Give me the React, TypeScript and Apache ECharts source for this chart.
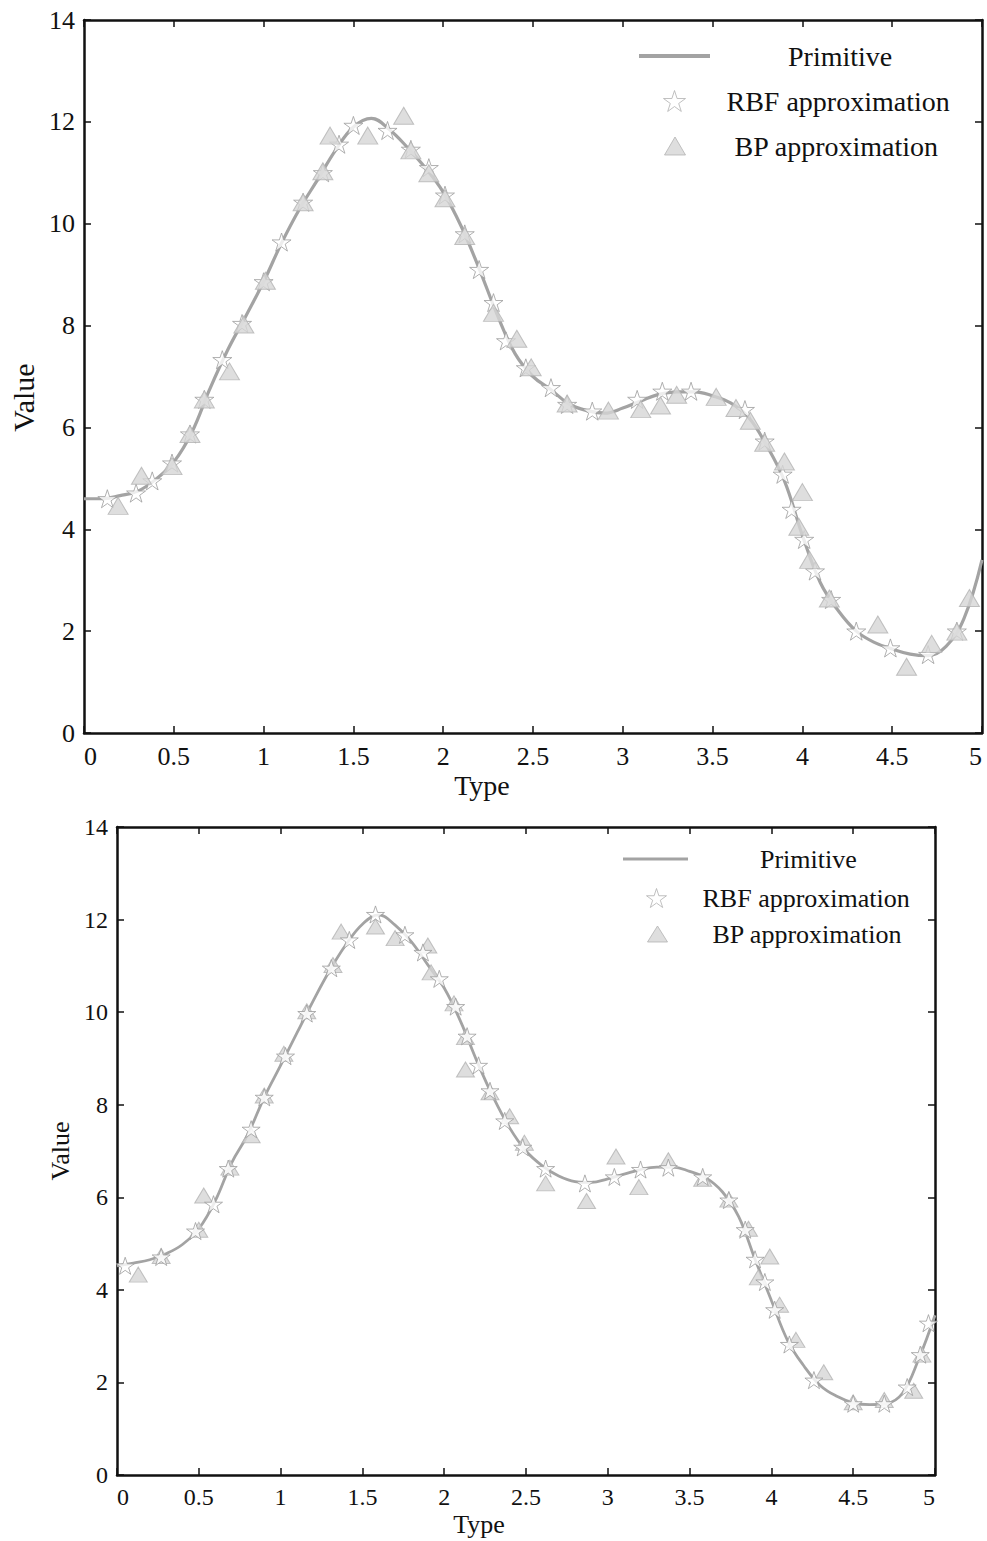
import React, { useEffect, useRef } from "react";
import * as echarts from "echarts";

const curveX = [0, 0.1, 0.2, 0.3, 0.4, 0.5, 0.6, 0.7, 0.8, 0.9, 1.0, 1.1, 1.2, 1.3, 1.4, 1.5, 1.6, 1.7, 1.8, 1.9, 2.0, 2.1, 2.2, 2.3, 2.4, 2.5, 2.6, 2.7, 2.8, 2.9, 3.0, 3.1, 3.2, 3.3, 3.4, 3.5, 3.6, 3.7, 3.8, 3.9, 4.0, 4.1, 4.2, 4.3, 4.4, 4.5, 4.6, 4.7, 4.8, 4.9, 5.0];

const primitiveTop = [4.6, 4.6, 4.66, 4.75, 4.98, 5.32, 5.9, 6.75, 7.52, 8.18, 8.86, 9.62, 10.29, 10.86, 11.44, 11.9, 12.07, 11.85, 11.5, 11.1, 10.62, 9.95, 9.12, 8.22, 7.45, 7.0, 6.74, 6.46, 6.33, 6.28, 6.38, 6.52, 6.65, 6.7, 6.7, 6.62, 6.48, 6.2, 5.65, 4.95, 3.88, 2.95, 2.4, 2.0, 1.78, 1.65, 1.55, 1.52, 1.7, 2.25, 3.4];

const primitiveBottom = [4.52, 4.58, 4.65, 4.78, 4.98, 5.32, 5.92, 6.74, 7.36, 8.16, 8.85, 9.55, 10.25, 10.9, 11.46, 11.9, 12.1, 11.88, 11.52, 11.02, 10.52, 9.8, 8.94, 8.16, 7.5, 7.0, 6.68, 6.46, 6.34, 6.32, 6.4, 6.5, 6.6, 6.65, 6.65, 6.56, 6.42, 6.12, 5.58, 4.66, 3.77, 2.9, 2.35, 1.93, 1.7, 1.56, 1.52, 1.54, 1.76, 2.5, 3.45];

const rbfTop = [[0.13, 4.6], [0.29, 4.71], [0.38, 4.95], [0.49, 5.3], [0.59, 5.87], [0.67, 6.55], [0.77, 7.33], [0.88, 8.04], [1.0, 8.86], [1.1, 9.64], [1.22, 10.42], [1.33, 11.0], [1.42, 11.56], [1.5, 11.93], [1.69, 11.83], [1.82, 11.46], [1.92, 11.1], [2.01, 10.56], [2.12, 9.8], [2.2, 9.1], [2.28, 8.45], [2.35, 7.7], [2.46, 7.17], [2.6, 6.78], [2.69, 6.45], [2.83, 6.32], [3.08, 6.55], [3.22, 6.71], [3.38, 6.71], [3.68, 6.35], [3.79, 5.73], [3.89, 5.08], [3.94, 4.39], [4.01, 3.8], [4.07, 3.18], [4.16, 2.62], [4.3, 2.0], [4.49, 1.67], [4.7, 1.54], [4.86, 2.0]];

const bpTop = [[0.19, 4.46], [0.32, 5.05], [0.49, 5.24], [0.59, 5.87], [0.67, 6.55], [0.81, 7.1], [0.89, 8.02], [1.01, 8.88], [1.22, 10.42], [1.33, 11.03], [1.37, 11.73], [1.58, 11.73], [1.78, 12.12], [1.82, 11.44], [1.92, 10.99], [2.01, 10.5], [2.12, 9.76], [2.28, 8.25], [2.41, 7.74], [2.49, 7.18], [2.69, 6.47], [2.92, 6.33], [3.1, 6.36], [3.21, 6.43], [3.3, 6.64], [3.52, 6.6], [3.63, 6.38], [3.71, 6.13], [3.79, 5.7], [3.9, 5.33], [4.0, 4.73], [3.98, 4.05], [4.04, 3.4], [4.15, 2.64], [4.42, 2.13], [4.58, 1.3], [4.72, 1.75], [4.86, 1.99], [4.93, 2.65]];

const rbfBottom = [[0.05, 4.52], [0.27, 4.71], [0.48, 5.27], [0.59, 5.85], [0.68, 6.62], [0.82, 7.47], [0.9, 8.16], [1.03, 9.05], [1.16, 9.97], [1.31, 10.95], [1.42, 11.56], [1.58, 12.11], [1.76, 11.67], [1.87, 11.29], [1.97, 10.72], [2.07, 10.12], [2.14, 9.48], [2.21, 8.85], [2.28, 8.3], [2.37, 7.65], [2.48, 7.08], [2.62, 6.62], [2.86, 6.3], [3.04, 6.44], [3.2, 6.6], [3.37, 6.64], [3.58, 6.44], [3.74, 5.94], [3.84, 5.3], [3.9, 4.66], [3.96, 4.17], [4.02, 3.57], [4.11, 2.82], [4.26, 2.05], [4.5, 1.54], [4.69, 1.54], [4.83, 1.9], [4.91, 2.6], [4.96, 3.28]];

const bpBottom = [[0.13, 4.33], [0.27, 4.73], [0.5, 5.3], [0.53, 6.04], [0.69, 6.64], [0.82, 7.34], [0.9, 8.2], [1.02, 9.1], [1.16, 10.02], [1.32, 11.02], [1.37, 11.74], [1.58, 11.85], [1.7, 11.6], [1.9, 11.44], [1.92, 10.86], [2.06, 10.19], [2.13, 9.46], [2.13, 8.76], [2.28, 8.27], [2.4, 7.75], [2.49, 7.18], [2.62, 6.3], [2.87, 5.92], [3.05, 6.88], [3.19, 6.22], [3.37, 6.8], [3.58, 6.4], [3.74, 5.95], [3.86, 5.32], [3.99, 4.72], [3.92, 4.27], [4.05, 3.68], [4.15, 2.92], [4.32, 2.22], [4.5, 1.57], [4.69, 1.62], [4.87, 1.82], [4.92, 2.6]];

const seriesNames = ["Primitive", "RBF approximation", "BP approximation"];
const xName = "Type";
const yName = "Value";

const FONT = "'Liberation Serif', 'Times New Roman', serif";
const STAR = "path://M50,0L61.23,34.55L97.55,34.55L68.17,55.9L79.39,90.45L50,69.1L20.61,90.45L31.83,55.9L2.45,34.55L38.77,34.55Z";
const LINE_COLOR = "#a3a3a3";

function pairs(xs: number[], ys: number[]) {
  return xs.map((x, i) => [x, ys[i]]);
}

export default function App() {
  const ref = useRef<HTMLDivElement>(null);
  useEffect(() => {
    document.body.style.margin = "0";
    const chart = echarts.init(ref.current!, undefined, { renderer: "svg" });

    const axisLine = { show: true, onZero: false, lineStyle: { color: "#111", width: 2.5 } };
    const tick = { show: true, inside: true, length: 7, lineStyle: { color: "#111", width: 1.5 } };

    const xBottom = (grid: number, fs: number, nfs: number, gap: number, pad: number) => ({
      type: "value", gridIndex: grid, position: "bottom", min: 0, max: 5, interval: 0.5,
      axisLine, axisTick: tick, splitLine: { show: false },
      axisLabel: { fontFamily: FONT, fontSize: fs, color: "#111", margin: 10, alignMinLabel: "left", alignMaxLabel: "right" },
      name: xName, nameLocation: "middle", nameGap: gap,
      nameTextStyle: { fontFamily: FONT, fontSize: nfs, color: "#111", padding: [0, pad, 0, 0] },
    });
    const xTop = (grid: number) => ({
      type: "value", gridIndex: grid, position: "top", min: 0, max: 5, interval: 0.5,
      axisLine, axisTick: tick, axisLabel: { show: false }, splitLine: { show: false },
    });
    const yLeft = (grid: number, fs: number, nfs: number, gap: number, pad: number) => ({
      type: "value", gridIndex: grid, position: "left", min: 0, max: 14, interval: 2,
      axisLine, axisTick: tick, splitLine: { show: false },
      axisLabel: { fontFamily: FONT, fontSize: fs, color: "#111", margin: 9 },
      name: yName, nameLocation: "middle", nameGap: gap,
      nameTextStyle: { fontFamily: FONT, fontSize: nfs, color: "#111", padding: [0, pad, 0, 0] },
    });
    const yRight = (grid: number) => ({
      type: "value", gridIndex: grid, position: "right", min: 0, max: 14, interval: 2,
      axisLine, axisTick: tick, axisLabel: { show: false }, splitLine: { show: false },
    });

    const starStyle = { color: "#ffffff", borderColor: "#9c9c9c", borderWidth: 1 };
    const starLegendStyle = { color: "#ffffff", borderColor: "#b0b0b0", borderWidth: 1 };
    const triStyle = { color: "#d6d6d6", borderColor: "#b3b3b3", borderWidth: 1 };
    const lineLegendStyle = { color: LINE_COLOR, borderWidth: 0 };

    const legendItem = (name: string, left: number, top: number, w: number, h: number, padLeft: number, fs: number, itemStyle: any, icon?: string) => ({
      data: [icon ? { name, icon } : name], left, top, itemWidth: w, itemHeight: h, padding: 0, selectedMode: false,
      itemStyle,
      textStyle: { fontFamily: FONT, fontSize: fs, color: "#111", padding: [0, 0, 0, padLeft] },
    });

    chart.setOption({
      animation: false,
      backgroundColor: "#ffffff",
      grid: [
        { left: 82, top: 20, width: 900, height: 713 },
        { left: 117, top: 827, width: 818, height: 648 },
      ],
      xAxis: [xBottom(0, 26, 28, 38, 102), xTop(0), xBottom(1, 24, 26, 36, 94), xTop(1)],
      yAxis: [yLeft(0, 26, 30, 46, 42), yRight(0), yLeft(1, 24, 26, 42, 0), yRight(1)],
      legend: [
        legendItem(seriesNames[0], 639, 42, 71, 4, 73, 28, lineLegendStyle, "rect"),
        legendItem(seriesNames[1], 663, 87, 22, 22, 36, 28, starLegendStyle),
        legendItem(seriesNames[2], 664, 132, 21, 18, 44, 28, triStyle),
        legendItem(seriesNames[0], 623, 846, 65, 3, 67, 26, lineLegendStyle, "rect"),
        legendItem(seriesNames[1], 646, 885, 20, 20, 31, 26, starLegendStyle),
        legendItem(seriesNames[2], 647, 921, 20, 16, 40, 26, triStyle),
      ],
      series: [
        {
          name: seriesNames[0], type: "line", xAxisIndex: 0, yAxisIndex: 0, data: pairs(curveX, primitiveTop),
          smooth: 0.4, symbol: "none", lineStyle: { color: LINE_COLOR, width: 3.2 }, itemStyle: { color: LINE_COLOR }, z: 2, silent: true,
        },
        {
          name: seriesNames[1], type: "scatter", xAxisIndex: 0, yAxisIndex: 0, data: rbfTop,
          symbol: STAR, symbolSize: 19, symbolKeepAspect: true, itemStyle: starStyle, z: 3, silent: true,
        },
        {
          name: seriesNames[2], type: "scatter", xAxisIndex: 0, yAxisIndex: 0, data: bpTop,
          symbol: "triangle", symbolSize: [20, 17], itemStyle: triStyle, z: 4, silent: true,
        },
        {
          name: seriesNames[0], type: "line", xAxisIndex: 2, yAxisIndex: 2, data: pairs(curveX, primitiveBottom),
          smooth: 0.4, symbol: "none", lineStyle: { color: LINE_COLOR, width: 2.8 }, itemStyle: { color: LINE_COLOR }, z: 2, silent: true,
        },
        {
          name: seriesNames[2], type: "scatter", xAxisIndex: 2, yAxisIndex: 2, data: bpBottom,
          symbol: "triangle", symbolSize: [18, 15], itemStyle: triStyle, z: 3, silent: true,
        },
        {
          name: seriesNames[1], type: "scatter", xAxisIndex: 2, yAxisIndex: 2, data: rbfBottom,
          symbol: STAR, symbolSize: 18, symbolKeepAspect: true, itemStyle: starStyle, z: 4, silent: true,
        },
      ],
    });
    return () => chart.dispose();
  }, []);
  return <div ref={ref} style={{ width: 987, height: 1541 }} />;
}
